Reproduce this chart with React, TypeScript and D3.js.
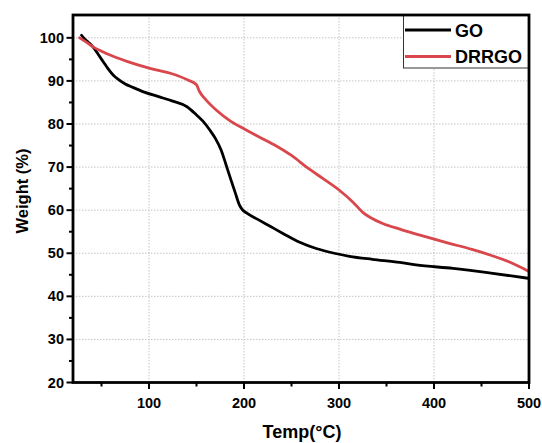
import React from "react";
import * as d3 from "d3";

const goTemp = [29, 32, 36, 41, 47, 52, 57, 63, 68, 75, 83, 95, 111, 125, 140, 150, 157, 164, 170, 176, 181, 186, 191, 195, 198, 203, 215, 228, 241, 258, 276, 295, 311, 335, 364, 381, 420, 460, 499];
const goWeight = [100.6, 99.8, 99, 97.9, 96, 94.4, 92.8, 91.2, 90.3, 89.3, 88.5, 87.4, 86.3, 85.3, 84.0, 82.1, 80.6, 78.6, 76.6, 73.9, 70.6, 67.2, 63.9, 61.3, 60.2, 59.3, 57.8, 56.2, 54.6, 52.6, 51.1, 50, 49.3, 48.6, 47.9, 47.3, 46.5, 45.4, 44.2];

const drTemp = [27, 34, 41, 50, 59, 76, 101, 125, 141, 150, 153, 160, 171, 185, 199, 215, 234, 250, 267, 284, 301, 315, 325, 333, 346, 364, 390, 416, 440, 459, 480, 499];
const drWeight = [100, 99, 97.9, 96.9, 96, 94.6, 92.9, 91.6, 90.2, 89.1, 87.6, 85.6, 83.2, 80.8, 79, 77.1, 74.9, 72.7, 69.8, 67.2, 64.5, 61.8, 59.5, 58.3, 56.9, 55.6, 53.9, 52.3, 50.9, 49.6, 47.9, 45.9];

const xTicks = [100, 200, 300, 400, 500];
const xMinor = [50, 150, 250, 350, 450];
const yTicks = [20, 30, 40, 50, 60, 70, 80, 90, 100];
const yMinor = [25, 35, 45, 55, 65, 75, 85, 95];
const seriesNames = ["GO", "DRRGO"];
const seriesColors = ["#000000", "#d9474c"];

const W = 542, H = 443;
const L = 73, R = 529, T = 15, B = 382.5;

export default function App() {
  const x = d3.scaleLinear().domain([20, 500]).range([L, R]);
  const y = d3.scaleLinear().domain([20, 105.3]).range([B, T]);
  const line = d3.line<[number, number]>()
    .x(d => x(d[0]))
    .y(d => y(d[1]))
    .curve(d3.curveMonotoneX);
  const go = goTemp.map((t, i) => [t, goWeight[i]] as [number, number]);
  const dr = drTemp.map((t, i) => [t, drWeight[i]] as [number, number]);
  const font = "'Liberation Sans', Arial, sans-serif";
  return (
    <svg width={W} height={H} style={{ position: "absolute", left: 0, top: 0, background: "#fff" }} fontFamily={font}>
      <rect x={0} y={0} width={W} height={H} fill="#fff" />
      {/* grid */}
      {yTicks.filter(v => v > 20).map(v => (
        <line key={"gy" + v} x1={L} x2={R} y1={y(v)} y2={y(v)} stroke="#c4c4c4" strokeWidth={1} strokeDasharray="1.5,1.5" />
      ))}
      {xTicks.filter(v => v < 500).map(v => (
        <line key={"gx" + v} x1={x(v)} x2={x(v)} y1={T} y2={B} stroke="#c4c4c4" strokeWidth={1} strokeDasharray="1.5,1.5" />
      ))}
      {/* curves */}
      <path d={line(go) || ""} fill="none" stroke={seriesColors[0]} strokeWidth={2.8} strokeLinejoin="round" strokeLinecap="round" />
      <path d={line(dr) || ""} fill="none" stroke={seriesColors[1]} strokeWidth={2.8} strokeLinejoin="round" strokeLinecap="round" />
      {/* legend */}
      <rect x={403.5} y={T} width={R - 403.5} height={53} fill="#fff" stroke="#333" strokeWidth={1} />
      {seriesNames.map((n, i) => (
        <g key={n}>
          <line x1={405} x2={451} y1={30 + i * 26.5} y2={30 + i * 26.5} stroke={seriesColors[i]} strokeWidth={2.8} />
          <text x={455} y={30 + i * 26.5 + 6.5} fontSize={18} fontWeight="bold" fill="#000">{n}</text>
        </g>
      ))}
      {/* frame */}
      <rect x={L} y={T} width={R - L} height={B - T} fill="none" stroke="#000" strokeWidth={2.8} />
      {/* y ticks */}
      {yTicks.map(v => (
        <g key={"yt" + v}>
          <line x1={L - 6.5} x2={L} y1={y(v)} y2={y(v)} stroke="#000" strokeWidth={2} />
          <text x={L - 9} y={y(v) + 5} fontSize={14.5} fontWeight="bold" textAnchor="end">{v}</text>
        </g>
      ))}
      {yMinor.map(v => (
        <line key={"ym" + v} x1={L - 4} x2={L} y1={y(v)} y2={y(v)} stroke="#000" strokeWidth={2} />
      ))}
      {/* x ticks */}
      {xTicks.map(v => (
        <g key={"xt" + v}>
          <line x1={x(v)} x2={x(v)} y1={B} y2={B + 6.5} stroke="#000" strokeWidth={2} />
          <text x={x(v)} y={408} fontSize={14.5} fontWeight="bold" textAnchor="middle">{v}</text>
        </g>
      ))}
      {xMinor.map(v => (
        <line key={"xm" + v} x1={x(v)} x2={x(v)} y1={B} y2={B + 4} stroke="#000" strokeWidth={2} />
      ))}
      {/* titles */}
      <text x={302} y={438} fontSize={18} fontWeight="bold" textAnchor="middle">Temp(°C)</text>
      <text transform={`translate(28,191) rotate(-90)`} fontSize={16.5} fontWeight="bold" textAnchor="middle">Weight (%)</text>
    </svg>
  );
}
